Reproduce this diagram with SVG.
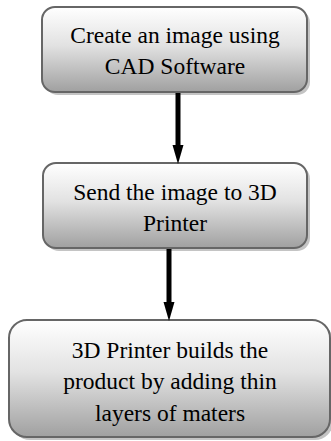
<svg xmlns="http://www.w3.org/2000/svg" width="331" height="441" viewBox="0 0 331 441">
<style>
.box{fill:url(#g);stroke:#666;stroke-width:2}
.sh{fill:#c4c4c4}
.t{font-size:23.5px;fill:#000;text-anchor:middle}
.c{stroke:#000;stroke-width:5;fill:none}
.ah{fill:#000}
</style>
<defs>
<linearGradient id="g" x1="0" y1="0" x2="0" y2="1">
<stop offset="0" stop-color="#ffffff"/>
<stop offset="0.45" stop-color="#e2e2e2"/>
<stop offset="1" stop-color="#a0a0a0"/>
</linearGradient>
</defs>
<g font-family="Liberation Serif, serif">
<g id="n1">
<rect class="sh" x="45" y="10" width="265" height="85" rx="13"/>
<rect class="box" x="42" y="7" width="265" height="85" rx="13"/>
<text class="t" x="175" y="43">Create an image using</text>
<text class="t" x="175" y="74">CAD Software</text>
</g>
<g id="n2">
<rect class="sh" x="46" y="166" width="264" height="85" rx="13"/>
<rect class="box" x="43" y="163" width="264" height="85" rx="13"/>
<text class="t" x="175" y="200">Send the image to 3D</text>
<text class="t" x="175" y="231">Printer</text>
</g>
<g id="n3">
<rect class="sh" x="12" y="323" width="321" height="117" rx="18"/>
<rect class="box" x="9" y="320" width="321" height="117" rx="18"/>
<text class="t" x="170" y="358">3D Printer builds the</text>
<text class="t" x="170" y="389">product by adding thin</text>
<text class="t" x="170" y="420.5">layers of maters</text>
</g>
</g>
<g id="connectors">
<line class="c" x1="178" y1="93" x2="178" y2="146"/>
<polygon class="ah" points="172.5,145 183.5,145 178,164"/>
<line class="c" x1="169" y1="249" x2="169" y2="303"/>
<polygon class="ah" points="163.5,302 174.5,302 169,321"/>
</g>
</svg>
